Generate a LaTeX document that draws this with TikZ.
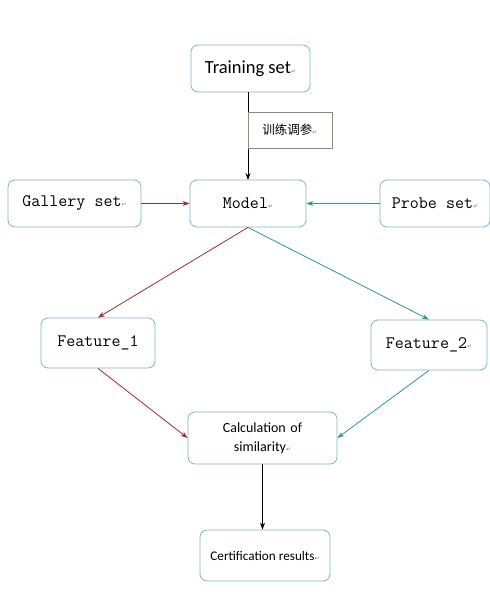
\documentclass[tikz,border=0pt]{standalone}
\usepackage{fontspec}
\setmainfont{Carlito}
\newfontfamily\cjk{Noto Sans CJK SC}
\newfontfamily\symfont{DejaVu Sans}
\usetikzlibrary{arrows.meta}
\definecolor{boxline}{HTML}{7DB8C8}
\definecolor{redline}{HTML}{A52A35}
\definecolor{greenline}{HTML}{2E9E74}
\definecolor{lblline}{HTML}{8C8C6E}
\newcommand{\pmark}{{\symfont\fontsize{6}{6}\selectfont\textcolor{gray}{↵}}}
\tikzset{
  x=1pt, y=-1pt,
  box/.style={draw=boxline, line width=0.8pt, rounded corners=7pt, fill=white, inner sep=2pt, align=center},
  arr/.style={-{Stealth[length=7pt,width=5pt]}, line width=0.8pt},
  monotxt/.style={font=\ttfamily\fontsize{17.5}{20}\selectfont},
}
\begin{document}
\begin{tikzpicture}
\useasboundingbox (0,0) rectangle (490,592);
\fill[white] (0,0) rectangle (490,592);
\node[box, minimum width=119pt, minimum height=47pt, font=\fontsize{18.5}{22}\selectfont] (train) at (250.5,68.5) {Training set\pmark};
\node[box, minimum width=116pt, minimum height=47pt, monotxt] (model) at (248,203.5) {Model\pmark};
\node[box, minimum width=133pt, minimum height=47pt, monotxt] (gallery) at (74.5,203.5) {Gallery set\pmark};
\node[box, minimum width=110pt, minimum height=47pt, monotxt] (probe) at (435,203.5) {Probe set\pmark};
\node[box, minimum width=114pt, minimum height=50pt, monotxt] (f1) at (98,343) {Feature\_1};
\node[box, minimum width=116pt, minimum height=50pt, monotxt] (f2) at (429,345) {Feature\_2\pmark};
\node[box, minimum width=149pt, minimum height=52pt, text width=130pt, font=\fontsize{14}{19}\selectfont] (calc) at (262.5,438) {Calculation of\\ similarity\pmark};
\node[box, minimum width=130pt, minimum height=51pt, font=\fontsize{13.2}{15}\selectfont] (cert) at (265,555.5) {Certification results\pmark};
\coordinate (ttop) at (248,92);
\coordinate (mtop) at (248,180);
\draw[arr] (ttop) -- (mtop);
\node[draw=lblline, line width=0.6pt, fill=white, minimum width=84pt, minimum height=36pt, font=\cjk\fontsize{12.5}{14}\selectfont] (lbl) at (290,130) {训练调参\pmark};
\draw[arr, redline] (gallery.east) -- (model.west);
\draw[arr, greenline] (probe.west) -- (model.east);
\draw[arr, redline] (model.south) -- (f1.north);
\draw[arr, greenline] (model.south) -- (f2.north);
\draw[arr, redline] (f1.south) -- (calc.west);
\draw[arr, greenline] (f2.south) -- (calc.east);
\draw[arr] (calc.south) -- (calc.south |- cert.north);
\end{tikzpicture}
\end{document}
